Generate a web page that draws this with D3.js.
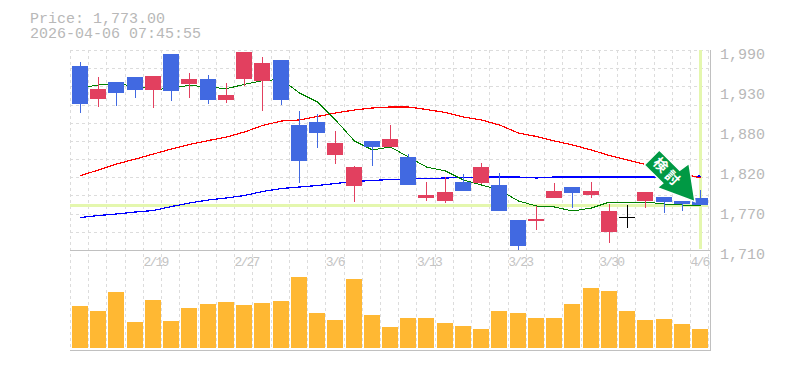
<!DOCTYPE html>
<html>
<head>
<meta charset="utf-8">
<script src="https://d3js.org/d3.v7.min.js"></script>
<style>
    html, body { margin: 0; padding: 0; background: #fff; }
    svg { display: block; }
    text { font-family: "Liberation Mono", monospace; fill: #b8b8b8; }
</style>
</head>
<body>
<script type="text/javascript">
    let dates = ["2/13","2/16","2/17","2/18","2/19","2/20","2/24","2/25","2/26","2/27","3/2","3/3","3/4","3/5","3/6","3/9","3/10","3/11",
        "3/12","3/13","3/16","3/17","3/18","3/19","3/23","3/24","3/25","3/26","3/27","3/30","3/31","4/1","4/2","4/3","4/6"];
    let opens = [1967.6,1921.4,1945.2,1952.2,1934,1984.4,1942.4,1949.4,1920,1949.4,1946.6,1976,1885,1889.2,1843,1799.6,1862.6,1854.2,
        1840.2,1782.8,1778.6,1805.2,1803.8,1801,1752,1750.6,1782.8,1798.2,1787,1735.2,1756.2,1778.6,1784.2,1778.6,1782.8];
    let highs = [1973.2,1952.2,1945.2,1952.2,1953.6,1984.4,1957.8,1955,1943.8,1987.2,1980.2,1976,1904.6,1900.4,1876.6,1827.6,1862.6,1885,
        1844.4,1805.2,1812.2,1816.4,1831.8,1817.8,1752,1771.6,1803.8,1798.2,1805.2,1774.4,1773,1791.2,1784.2,1778.6,1794];
    let lows = [1901.8,1910.2,1911.6,1922.8,1908.8,1918.6,1922.8,1914.4,1915.8,1939.6,1904.6,1913,1803.8,1852.8,1830.4,1777.2,1827.6,1854.2,
        1801,1778.6,1775.8,1792.6,1802.4,1764.6,1710,1738,1782.8,1768.8,1782.8,1719.8,1740.8,1768.8,1761.8,1764.6,1773];
    let closes = [1914.4,1935.4,1929.8,1934,1953.6,1932.6,1949.4,1920,1927,1987.2,1971.8,1920,1834.6,1873.8,1859.8,1826.2,1854.2,1865.4,
        1801,1787,1791.2,1792.6,1826.2,1764.6,1715.6,1753.4,1792.6,1789.8,1792.6,1764.6,1756.2,1791.2,1777.2,1774.4,1773];
    let volumes = [42000,37000,56000,26000,48000,27000,40000,44000,46000,43000,45000,47000,71000,35000,28000,69000,33000,21000,
        30000,30000,25000,22000,19000,37000,35000,30000,30000,44000,60000,57000,37000,28000,29000,24000,19000];
    let maShort = [1936.8,1941,1942,1940,1934,1936.8,1940.6,1938.2,1935.8,1942,1947,1949,1929.8,1917.2,1892,1862.6,1850,1854.2,
        1840.2,1826.2,1820.6,1808,1801,1794,1778.6,1771.6,1770.2,1764.6,1768.8,1777.2,1777.2,1777.2,1774.4,1773,1773];
    let maMid = [1814.3,1822,1830.4,1837.4,1844.4,1851.4,1857.7,1863.3,1868.2,1875.2,1884.3,1890.6,1892,1896.9,1901.8,1906,1908.8,1910.2,
        1910.2,1906.7,1902.5,1896.2,1892,1885,1873.8,1868.9,1862.6,1857,1850,1842.3,1836,1829.7,1823.4,1817.1,1810.8];
    let maLong = [1755.5,1758.3,1760.4,1763.2,1765.3,1770.9,1775.8,1780,1782.8,1786.3,1791.9,1796.1,1798.2,1800.3,1803.1,1805.9,1807.3,1808.7,
        1809.4,1810.1,1810.8,1811.5,1812.2,1812.2,1812.2,1810.8,1812.2,1812.2,1812.2,1812.2,1812.2,1812.2,1812.2,1812.2,1813.6];
    let priceTicks = [1990,1934,1878,1822,1766,1710];
    let dateTicks = ["2/19","2/27","3/6","3/13","3/23","3/30","4/6"];
    let lastPrice = 1773;
    let priceLabel = "Price: 1,773.00";
    let timeLabel = "2026-04-06 07:45:55";
    let arrowLabel = ["検","討"];

    let width = 785,
        height = 370,
        left = 70,
        right = 710,
        top_ = 50,
        mid = 250,
        bottom = 350,
        barWidth = 16;

    let svg = d3.select("body").append("svg")
        .attr("width", width)
        .attr("height", height);

    let x = d3.scalePoint().domain(dates).range([80, 700]);
    let y = d3.scaleLinear().domain([1710, 1990]).range([mid, top_]);
    let yVol = d3.scaleLinear().domain([0, 100000]).range([348, 248]);

    let idx = d3.range(dates.length);
    let barX = i => Math.round(x(dates[i]) - barWidth / 2);
    let midX = i => barX(i) + barWidth / 2 + 0.5;

    function drawGrid() {
        let g = svg.append("g")
            .attr("stroke", "#dcdcdc")
            .attr("stroke-dasharray", "3,3")
            .attr("shape-rendering", "crispEdges");

        // grid sits in the gaps between the candles
        let step = x.step();
        g.selectAll("line.v")
            .data(d3.range(dates.length + 1))
            .join("line")
                .attr("class", "v")
                .attr("x1", i => Math.round(left + i * step) + 0.5)
                .attr("x2", i => Math.round(left + i * step) + 0.5)
                .attr("y1", top_)
                .attr("y2", bottom);

        g.selectAll("line.h")
            .data(d3.range(12))
            .join("line")
                .attr("class", "h")
                .attr("x1", left)
                .attr("x2", right)
                .attr("y1", i => Math.round(top_ + i * (mid - top_) / 11) + 0.5)
                .attr("y2", i => Math.round(top_ + i * (mid - top_) / 11) + 0.5);
    }

    function drawHighlight() {
        // last price and last date
        svg.append("line")
            .attr("x1", left).attr("x2", 708)
            .attr("y1", y(lastPrice) + 0.5).attr("y2", y(lastPrice) + 0.5)
            .attr("stroke", "#e4f7ae")
            .attr("stroke-width", 3)
            .attr("shape-rendering", "crispEdges");
        svg.append("line")
            .attr("x1", x(dates[dates.length - 1]) + 0.5).attr("x2", x(dates[dates.length - 1]) + 0.5)
            .attr("y1", top_).attr("y2", 249)
            .attr("stroke", "#e4f7ae")
            .attr("stroke-width", 3)
            .attr("shape-rendering", "crispEdges");
    }

    function drawLine(values, color, lineWidth) {
        let line = d3.line()
            .x((d, i) => midX(i))
            .y(d => y(d));
        svg.append("path")
            .attr("d", line(values))
            .attr("fill", "none")
            .attr("stroke", color)
            .attr("stroke-width", lineWidth)
            .attr("shape-rendering", "crispEdges");
    }

    function candleColor(i) {
        if (closes[i] > opens[i]) return "#e2405f";
        if (closes[i] < opens[i]) return "#4169e1";
        return "#000";
    }

    function drawCandles() {
        let g = svg.append("g").attr("shape-rendering", "crispEdges");

        g.selectAll("line")
            .data(idx)
            .join("line")
                .attr("x1", midX)
                .attr("x2", midX)
                .attr("y1", i => y(highs[i]))
                .attr("y2", i => y(lows[i]))
                .attr("stroke", candleColor);

        g.selectAll("rect")
            .data(idx)
            .join("rect")
                .attr("x", barX)
                .attr("y", i => Math.round(y(Math.max(opens[i], closes[i]))))
                .attr("width", barWidth)
                .attr("height", i => Math.max(1, Math.round(Math.abs(y(opens[i]) - y(closes[i])))))
                .attr("fill", candleColor);
    }

    function drawVolume() {
        svg.append("g")
            .attr("shape-rendering", "crispEdges")
            .selectAll("rect")
            .data(idx)
            .join("rect")
                .attr("x", barX)
                .attr("y", i => yVol(volumes[i]))
                .attr("width", barWidth)
                .attr("height", i => yVol(0) - yVol(volumes[i]))
                .attr("fill", "#ffb833");
    }

    function drawFrame() {
        let g = svg.append("g")
            .attr("stroke", "#c0c0c0")
            .attr("shape-rendering", "crispEdges");
        g.append("line").attr("x1", left).attr("x2", right + 1).attr("y1", mid + 0.5).attr("y2", mid + 0.5);
        g.append("line").attr("x1", left).attr("x2", right + 1).attr("y1", bottom + 0.5).attr("y2", bottom + 0.5);
        g.append("line").attr("x1", right + 0.5).attr("x2", right + 0.5).attr("y1", top_).attr("y2", bottom + 1);
    }

    function drawAxes() {
        let yAxis = d3.axisRight(y)
            .tickValues(priceTicks)
            .tickFormat(d => d3.format(",")(Math.round(d / 10) * 10))
            .tickSize(0);
        let gy = svg.append("g").attr("transform", `translate(${right},0)`).call(yAxis);
        gy.select(".domain").remove();
        gy.selectAll("text")
            .attr("x", 10)
            .attr("dy", 8)
            .attr("text-anchor", "start")
            .style("font-size", "15px")
            .style("font-family", "'Liberation Mono', monospace");

        // tall narrow labels, left edge on the grid line
        let xAxis = d3.axisBottom(x)
            .tickValues(dateTicks)
            .tickSize(0);
        let gx = svg.append("g").attr("transform", `translate(0,${mid})`).call(xAxis);
        gx.select(".domain").remove();
        gx.selectAll("text")
            .attr("x", -10)
            .attr("y", 16)
            .attr("dy", 0)
            .attr("text-anchor", "start")
            .style("font-size", "13px")
            .style("letter-spacing", "-1.8px")
            .style("font-family", "'Liberation Mono', monospace")
            .style("fill", "#c4c4c4");
    }

    function drawTitle() {
        svg.append("text").attr("x", 30).attr("y", 23).style("font-size", "15px").text(priceLabel);
        svg.append("text").attr("x", 30).attr("y", 38).style("font-size", "15px").text(timeLabel);
    }

    function drawArrow() {
        let points = [[659.3,150],[679.7,170.3],[689,163.3],[695,201.7],[657.3,187.7],[662.7,183.3],[644.3,165]];
        svg.append("polygon")
            .attr("points", points.join(" "))
            .attr("fill", "#009944")
            .attr("stroke", "#fff")
            .attr("stroke-width", 1.5)
            .attr("stroke-linejoin", "miter");

        svg.selectAll("text.arrow")
            .data(arrowLabel)
            .join("text")
                .attr("class", "arrow")
                .attr("transform", (d, i) => `translate(${660.7 + i * 11.7},${165 + i * 13}) rotate(45)`)
                .attr("text-anchor", "middle")
                .attr("dy", 5)
                .style("font-family", "'Noto Sans CJK JP', sans-serif")
                .style("font-weight", "700")
                .style("font-size", "14px")
                .style("fill", "#fff")
                .text(d => d);
    }

    drawGrid();
    drawHighlight();
    drawLine(maLong, "#0000ff", 1.2);
    drawLine(maMid, "#ff0000", 1.2);
    drawLine(maShort, "#008000", 1);
    drawCandles();
    drawVolume();
    drawFrame();
    drawAxes();
    drawTitle();
    drawArrow();
</script>
</body>
</html>
